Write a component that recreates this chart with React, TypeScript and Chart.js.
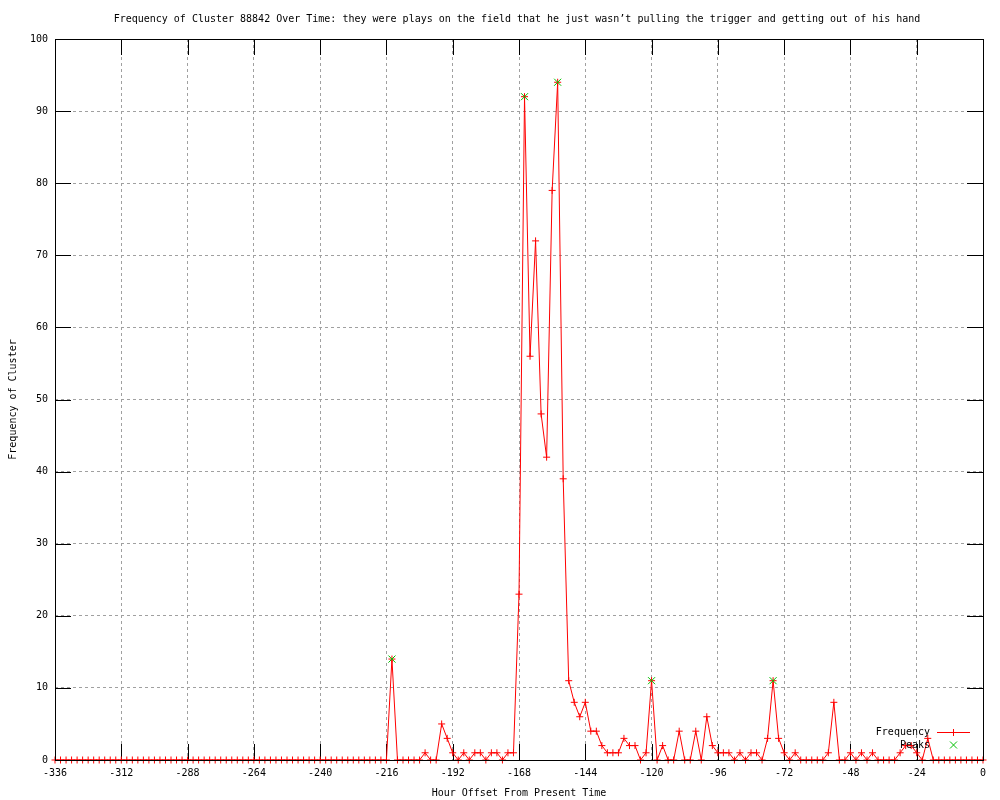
import React, { useEffect, useRef } from "react";
import { Chart, registerables } from "chart.js";

Chart.register(...registerables);

const TITLE =
  "Frequency of Cluster 88842 Over Time: they were plays on the field that he just wasn’t pulling the trigger and getting out of his hand";
const X_TITLE = "Hour Offset From Present Time";
const Y_TITLE = "Frequency of Cluster";
const LEGEND_FREQ = "Frequency";
const LEGEND_PEAKS = "Peaks";

const hours = [
  -336, -334, -332, -330, -328, -326, -324, -322, -320, -318, -316, -314, -312, -310, -308, -306, -304, -302, -300, -298,
  -296, -294, -292, -290, -288, -286, -284, -282, -280, -278, -276, -274, -272, -270, -268, -266, -264, -262, -260, -258,
  -256, -254, -252, -250, -248, -246, -244, -242, -240, -238, -236, -234, -232, -230, -228, -226, -224, -222, -220, -218,
  -216, -214, -212, -210, -208, -206, -204, -202, -200, -198, -196, -194, -192, -190, -188, -186, -184, -182, -180, -178,
  -176, -174, -172, -170, -168, -166, -164, -162, -160, -158, -156, -154, -152, -150, -148, -146, -144, -142, -140, -138,
  -136, -134, -132, -130, -128, -126, -124, -122, -120, -118, -116, -114, -112, -110, -108, -106, -104, -102, -100, -98,
  -96, -94, -92, -90, -88, -86, -84, -82, -80, -78, -76, -74, -72, -70, -68, -66, -64, -62, -60, -58,
  -56, -54, -52, -50, -48, -46, -44, -42, -40, -38, -36, -34, -32, -30, -28, -26, -24, -22, -20, -18,
  -16, -14, -12, -10, -8, -6, -4, -2, 0,
];

const frequency = [
  0, 0, 0, 0, 0, 0, 0, 0, 0, 0, 0, 0, 0, 0, 0, 0, 0, 0, 0, 0,
  0, 0, 0, 0, 0, 0, 0, 0, 0, 0, 0, 0, 0, 0, 0, 0, 0, 0, 0, 0,
  0, 0, 0, 0, 0, 0, 0, 0, 0, 0, 0, 0, 0, 0, 0, 0, 0, 0, 0, 0,
  0, 14, 0, 0, 0, 0, 0, 1, 0, 0, 5, 3, 1, 0, 1, 0, 1, 1, 0, 1,
  1, 0, 1, 1, 23, 92, 56, 72, 48, 42, 79, 94, 39, 11, 8, 6, 8, 4, 4, 2,
  1, 1, 1, 3, 2, 2, 0, 1, 11, 0, 2, 0, 0, 4, 0, 0, 4, 0, 6, 2,
  1, 1, 1, 0, 1, 0, 1, 1, 0, 3, 11, 3, 1, 0, 1, 0, 0, 0, 0, 0,
  1, 8, 0, 0, 1, 0, 1, 0, 1, 0, 0, 0, 0, 1, 2, 2, 1, 0, 3, 0,
  0, 0, 0, 0, 0, 0, 0, 0, 0,
];

const peakHours = [-214, -166, -154, -120, -76];
const peakValues = [14, 92, 94, 11, 11];

const xTickValues = [-336, -312, -288, -264, -240, -216, -192, -168, -144, -120, -96, -72, -48, -24, 0];
const yTickValues = [0, 10, 20, 30, 40, 50, 60, 70, 80, 90, 100];

const FONT_FAMILY = '"DejaVu Sans Mono", "Liberation Mono", monospace';
const RED = "#ff0000";
const GREEN = "#00c000";
const GRID = "#a0a0a0";

const gnuplotPlugin = {
  id: "gnuplotLook",
  beforeDatasetsDraw(chart: any) {
    const { ctx, chartArea, scales } = chart;
    const { left, right, top, bottom } = chartArea;
    const L = 16;
    ctx.save();
    ctx.strokeStyle = "#000";
    ctx.lineWidth = 1;
    ctx.beginPath();
    for (const v of xTickValues) {
      const px = Math.round(scales.x.getPixelForValue(v)) + 0.5;
      ctx.moveTo(px, bottom);
      ctx.lineTo(px, bottom - L);
      ctx.moveTo(px, top);
      ctx.lineTo(px, top + L);
    }
    for (const v of yTickValues) {
      const py = Math.round(scales.y.getPixelForValue(v)) + 0.5;
      ctx.moveTo(left, py);
      ctx.lineTo(left + L, py);
      ctx.moveTo(right, py);
      ctx.lineTo(right - L, py);
    }
    ctx.stroke();
    ctx.restore();
  },
  afterDatasetsDraw(chart: any) {
    const { ctx, chartArea } = chart;
    const { left, right, top, bottom } = chartArea;
    ctx.save();
    ctx.strokeStyle = "#000";
    ctx.lineWidth = 1;
    ctx.strokeRect(Math.round(left) + 0.5, Math.round(top) + 0.5, Math.round(right - left), Math.round(bottom - top));
    ctx.restore();
  },
  afterDraw(chart: any) {
    const { ctx, chartArea } = chart;
    ctx.save();
    ctx.font = `10px ${FONT_FAMILY}`;
    ctx.fillStyle = "#000";
    ctx.textBaseline = "middle";
    // title
    ctx.textAlign = "center";
    ctx.fillText(TITLE, (chartArea.left + chartArea.right) / 2 - 2, 19);
    // legend
    const textRight = chartArea.right - 53;
    const sampleL = chartArea.right - 46;
    const sampleR = chartArea.right - 13;
    const mid = (sampleL + sampleR) / 2;
    const y1 = chartArea.bottom - 27.5;
    const y2 = chartArea.bottom - 15;
    ctx.textAlign = "right";
    ctx.fillText(LEGEND_FREQ, textRight, y1);
    ctx.fillText(LEGEND_PEAKS, textRight, y2);
    ctx.strokeStyle = RED;
    ctx.lineWidth = 1;
    ctx.beginPath();
    ctx.moveTo(sampleL, y1);
    ctx.lineTo(sampleR, y1);
    ctx.moveTo(mid, y1 - 3.5);
    ctx.lineTo(mid, y1 + 3.5);
    ctx.stroke();
    ctx.strokeStyle = GREEN;
    ctx.beginPath();
    ctx.moveTo(mid - 3.5, y2 - 3.5);
    ctx.lineTo(mid + 3.5, y2 + 3.5);
    ctx.moveTo(mid + 3.5, y2 - 3.5);
    ctx.lineTo(mid - 3.5, y2 + 3.5);
    ctx.stroke();
    ctx.restore();
  },
};

export default function App() {
  const ref = useRef<HTMLCanvasElement>(null);

  useEffect(() => {
    document.body.style.margin = "0";
    const canvas = ref.current;
    if (!canvas) return;
    const freqData = hours.map((h, i) => ({ x: h, y: frequency[i] }));
    const peakData = peakHours.map((h, i) => ({ x: h, y: peakValues[i] }));
    const tickFont = { family: FONT_FAMILY, size: 10 };

    const chart = new Chart(canvas, {
      type: "line",
      data: {
        datasets: [
          {
            label: LEGEND_FREQ,
            data: freqData,
            borderColor: RED,
            backgroundColor: RED,
            borderWidth: 1,
            pointStyle: "cross",
            pointRadius: 3.5,
            pointBorderColor: RED,
            pointBorderWidth: 1,
            tension: 0,
            fill: false,
            clip: false,
            order: 1,
          } as any,
          {
            label: LEGEND_PEAKS,
            data: peakData,
            showLine: false,
            borderColor: GREEN,
            backgroundColor: GREEN,
            pointStyle: "crossRot",
            pointRadius: 5,
            pointBorderColor: GREEN,
            pointBorderWidth: 1,
            clip: false,
            order: 0,
          } as any,
        ],
      },
      options: {
        responsive: false,
        animation: false,
        devicePixelRatio: 1,
        events: [],
        layout: { padding: { top: 39, right: 17, left: 0, bottom: 0 } },
        plugins: {
          legend: { display: false },
          title: { display: false },
          tooltip: { enabled: false },
        },
        scales: {
          x: {
            type: "linear",
            min: -336,
            max: 0,
            afterBuildTicks: (scale: any) => {
              scale.ticks = xTickValues.map((v) => ({ value: v }));
            },
            afterFit: (scale: any) => {
              scale.height = 40;
            },
            ticks: {
              font: tickFont,
              color: "#000",
              padding: 7,
              maxRotation: 0,
              autoSkip: false,
            },
            grid: { color: GRID, lineWidth: 1, drawTicks: false },
            border: { display: false, dash: [3, 3] },
            title: {
              display: true,
              text: X_TITLE,
              font: tickFont,
              color: "#000",
              padding: { top: 0, bottom: 1 },
            },
          },
          y: {
            type: "linear",
            min: 0,
            max: 100,
            afterBuildTicks: (scale: any) => {
              scale.ticks = yTickValues.map((v) => ({ value: v }));
            },
            afterFit: (scale: any) => {
              scale.width = 55;
            },
            ticks: {
              font: tickFont,
              color: "#000",
              padding: 7,
              autoSkip: false,
            },
            grid: { color: GRID, lineWidth: 1, drawTicks: false },
            border: { display: false, dash: [3, 3] },
            title: {
              display: true,
              text: Y_TITLE,
              font: tickFont,
              color: "#000",
              padding: { top: 7, bottom: 0 },
            },
          },
        },
      } as any,
      plugins: [gnuplotPlugin],
    });
    return () => chart.destroy();
  }, []);

  return (
    <div style={{ width: 1000, height: 800 }}>
      <canvas ref={ref} width={1000} height={800} style={{ display: "block", width: 1000, height: 800 }} />
    </div>
  );
}
